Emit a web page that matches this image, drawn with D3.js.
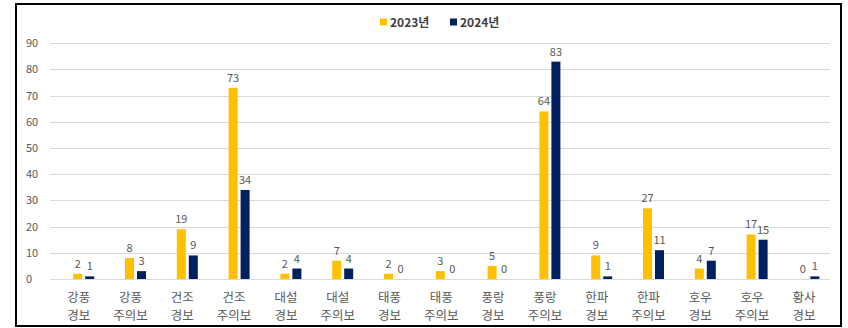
<!DOCTYPE html>
<html>
<head>
<meta charset="utf-8">
<script src="https://cdn.jsdelivr.net/npm/d3@7"></script>
<style>
  html, body { margin: 0; padding: 0; background: #fff; }
  svg { display: block; }
  text { font-family: "Noto Sans CJK KR", "Noto Sans", sans-serif; }
</style>
</head>
<body>
<svg id="chart" width="848" height="328"></svg>
<script>
// Warning / advisory categories (two-line labels)
const categories = [
  ["강풍", "경보"], ["강풍", "주의보"], ["건조", "경보"], ["건조", "주의보"],
  ["대설", "경보"], ["대설", "주의보"], ["태풍", "경보"], ["태풍", "주의보"],
  ["풍랑", "경보"], ["풍랑", "주의보"], ["한파", "경보"], ["한파", "주의보"],
  ["호우", "경보"], ["호우", "주의보"], ["황사", "경보"]
];
const seriesNames = ["2023년", "2024년"];
const values2023 = [2, 8, 19, 73, 2, 7, 2, 3, 5, 64, 9, 27, 4, 17, 0];
const values2024 = [1, 3, 9, 34, 4, 4, 0, 0, 0, 83, 1, 11, 7, 15, 1];
const yTicks = [0, 10, 20, 30, 40, 50, 60, 70, 80, 90];

const colors = ["#FFC000", "#002060"];
const svg = d3.select("#chart");

// outer frame
svg.append("rect")
  .attr("x", 16).attr("y", 4).attr("width", 825).attr("height", 322)
  .attr("fill", "#fff").attr("stroke", "#000").attr("stroke-width", 2);

const y = d3.scaleLinear().domain([0, 90]).range([279, 43.3]);
const x = d3.scaleBand().domain(d3.range(categories.length)).range([57.8, 834.8]);
const gridLeft = 50, gridRight = 830;

// horizontal gridlines
svg.append("g").selectAll("line").data(yTicks).join("line")
  .attr("x1", gridLeft).attr("x2", gridRight)
  .attr("y1", d => Math.round(y(d)) + 0.5).attr("y2", d => Math.round(y(d)) + 0.5)
  .attr("stroke", "#D9D9D9").attr("stroke-width", 1);

// y axis labels
svg.append("g").selectAll("text").data(yTicks).join("text")
  .attr("x", 26).attr("y", d => y(d) + 4)
  .attr("font-size", 11).attr("fill", "#595959")
  .text(d => d);

// bars
const barW = 9, gap = 3;
const series = [values2023, values2024];
series.forEach((vals, s) => {
  const off = s === 0 ? -(barW + gap / 2) : gap / 2;
  const g = svg.append("g");
  g.selectAll("rect").data(vals).join("rect")
    .attr("x", (d, i) => x(i) + x.bandwidth() / 2 + off)
    .attr("y", d => y(d))
    .attr("width", barW)
    .attr("height", d => y(0) - y(d))
    .attr("fill", colors[s]);
  g.selectAll("text").data(vals).join("text")
    .attr("x", (d, i) => x(i) + x.bandwidth() / 2 + off + barW / 2)
    .attr("y", d => y(d) - 6)
    .attr("text-anchor", "middle")
    .attr("font-size", 11).attr("fill", "#595959")
    .text(d => d);
});

// category labels
const cat = svg.append("g").selectAll("text").data(categories).join("text")
  .attr("text-anchor", "middle")
  .attr("font-size", 12.5).attr("fill", "#595959");
cat.each(function (d, i) {
  const t = d3.select(this);
  const cx = x(i) + x.bandwidth() / 2 - 5;
  t.append("tspan").attr("x", cx).attr("y", 301.5).text(d[0]);
  t.append("tspan").attr("x", cx).attr("y", 319.5).text(d[1]);
});

// legend
const legendX = [380, 450];
const lg = svg.append("g");
seriesNames.forEach((name, s) => {
  lg.append("rect").attr("x", legendX[s]).attr("y", 18.5).attr("width", 7).attr("height", 7)
    .attr("fill", colors[s]);
  lg.append("text").attr("x", legendX[s] + 10).attr("y", 26.5)
    .attr("font-size", 12).attr("font-weight", "bold").attr("fill", "#404040")
    .text(name);
});
</script>
</body>
</html>
